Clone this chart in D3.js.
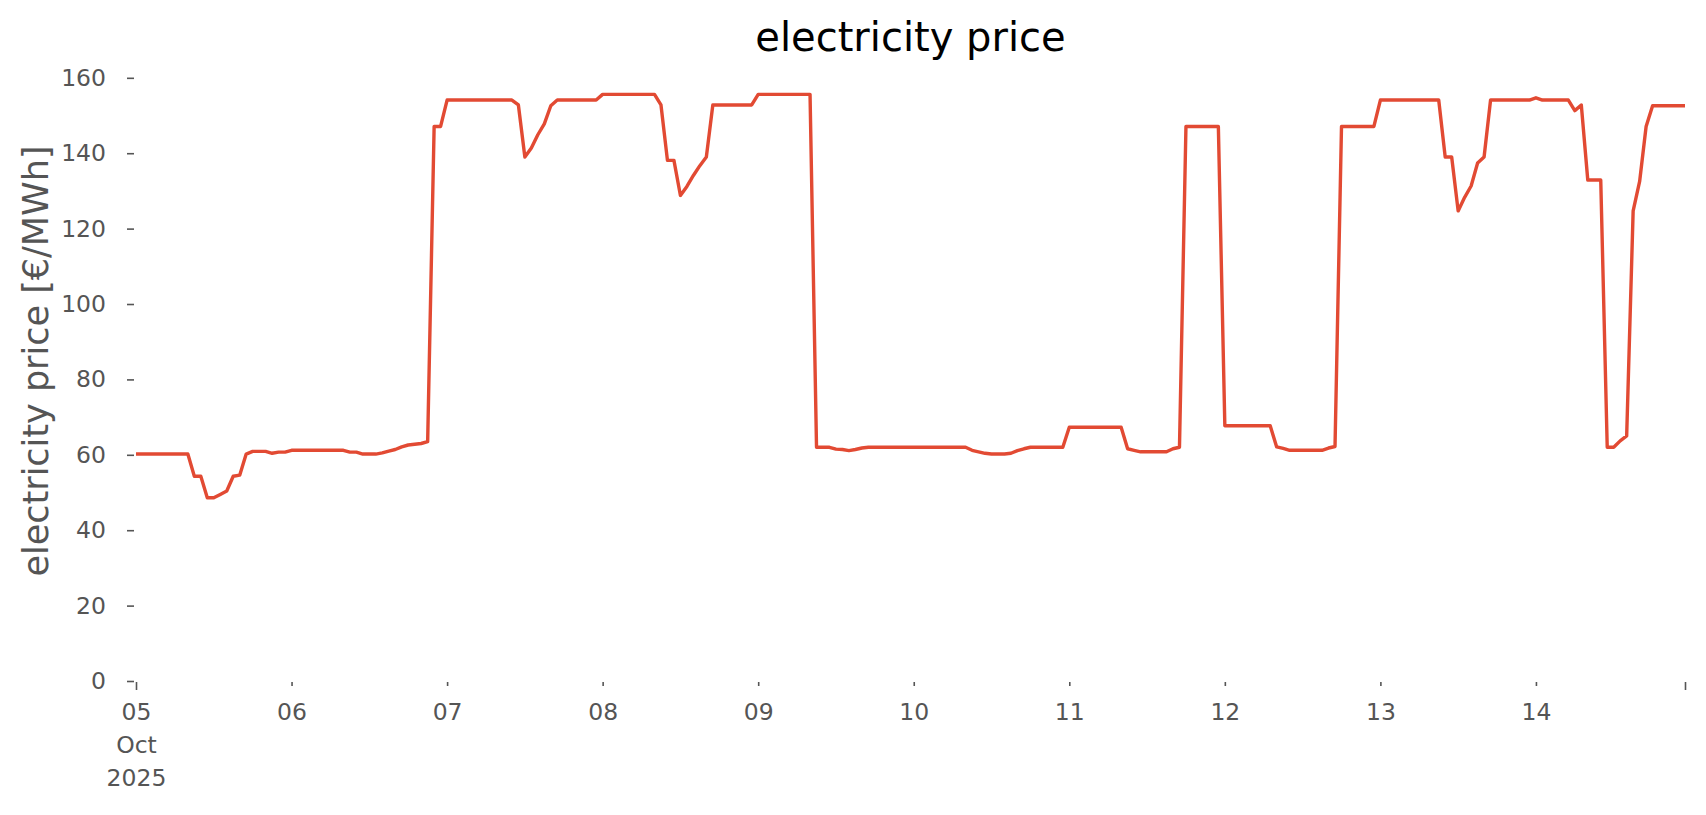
<!DOCTYPE html>
<html>
<head>
<meta charset="utf-8">
<script src="https://cdn.jsdelivr.net/npm/d3@7"></script>
<style>
body { margin: 0; background: #fff; }
text { font-family: "DejaVu Sans", sans-serif; }
</style>
</head>
<body>
<svg id="chart" width="1706" height="815"></svg>
<script>
//variable definition
var WIDTH = 1706;
var HEIGHT = 815;
var MARGIN = {left: 136, right: 21, top: 65, bottom: 134};
var LINE_COLOR = "#E24A33";
var TEXT_COLOR = "#555555";

// hourly prices, one array per day (05 Oct 2025 00:00 .. 14 Oct 2025 23:00)
var START = new Date(2025, 9, 5, 0);
var DAY_05 = [60.2, 60.2, 60.2, 60.2, 60.2, 60.2, 60.2, 60.2, 60.2, 54.3, 54.3, 48.6, 48.6, 49.5, 50.4, 54.3, 54.6, 60.2, 60.9, 60.9, 60.9, 60.4, 60.7, 60.7];
var DAY_06 = [61.2, 61.2, 61.2, 61.2, 61.2, 61.2, 61.2, 61.2, 61.2, 60.7, 60.7, 60.2, 60.2, 60.2, 60.5, 61.0, 61.4, 62.1, 62.6, 62.8, 63.0, 63.5, 147.1, 147.1];
var DAY_07 = [154.1, 154.1, 154.1, 154.1, 154.1, 154.1, 154.1, 154.1, 154.1, 154.1, 154.1, 152.8, 139.0, 141.4, 144.9, 147.8, 152.6, 154.1, 154.1, 154.1, 154.1, 154.1, 154.1, 154.1];
var DAY_08 = [155.6, 155.6, 155.6, 155.6, 155.6, 155.6, 155.6, 155.6, 155.6, 152.8, 138.1, 138.1, 128.8, 131.2, 134.1, 136.7, 139.0, 152.8, 152.8, 152.8, 152.8, 152.8, 152.8, 152.8];
var DAY_09 = [155.6, 155.6, 155.6, 155.6, 155.6, 155.6, 155.6, 155.6, 155.6, 62.0, 62.0, 62.0, 61.5, 61.4, 61.1, 61.4, 61.8, 62.0, 62.0, 62.0, 62.0, 62.0, 62.0, 62.0];
var DAY_10 = [62.0, 62.0, 62.0, 62.0, 62.0, 62.0, 62.0, 62.0, 62.0, 61.2, 60.8, 60.4, 60.2, 60.2, 60.2, 60.4, 61.1, 61.6, 62.0, 62.0, 62.0, 62.0, 62.0, 62.0];
var DAY_11 = [67.3, 67.3, 67.3, 67.3, 67.3, 67.3, 67.3, 67.3, 67.3, 61.6, 61.2, 60.8, 60.8, 60.8, 60.8, 60.8, 61.6, 62.0, 147.1, 147.1, 147.1, 147.1, 147.1, 147.1];
var DAY_12 = [67.7, 67.7, 67.7, 67.7, 67.7, 67.7, 67.7, 67.7, 62.1, 61.7, 61.2, 61.2, 61.2, 61.2, 61.2, 61.2, 61.8, 62.2, 147.1, 147.1, 147.1, 147.1, 147.1, 147.1];
var DAY_13 = [154.1, 154.1, 154.1, 154.1, 154.1, 154.1, 154.1, 154.1, 154.1, 154.1, 139.0, 139.0, 124.7, 128.3, 131.3, 137.4, 139.0, 154.1, 154.1, 154.1, 154.1, 154.1, 154.1, 154.1];
var DAY_14 = [154.7, 154.1, 154.1, 154.1, 154.1, 154.1, 151.3, 152.8, 132.9, 132.9, 132.9, 62.0, 62.0, 63.7, 65.0, 124.7, 132.5, 147.1, 152.6, 152.6, 152.6, 152.6, 152.6, 152.6];

var DAY_LABELS = ["05", "06", "07", "08", "09", "10", "11", "12", "13", "14"];
var FIRST_LABEL_EXTRA = ["Oct", "2025"];
var Y_TICKS = [0, 20, 40, 60, 80, 100, 120, 140, 160];
var Y_MAX = 163.4;


function buildData() {
    let prices = [].concat(DAY_05, DAY_06, DAY_07, DAY_08, DAY_09, DAY_10, DAY_11, DAY_12, DAY_13, DAY_14);
    return prices.map((p, i) => ({
        "time": d3.timeHour.offset(START, i),
        "price": p
    }));
}

function drawChart(data) {
    let svg = d3.select("#chart");

    svg.append("rect")
        .attr("width", WIDTH)
        .attr("height", HEIGHT)
        .attr("fill", "white");

    let timeRange = d3.extent(data, d => d.time);

    let xScale = d3.scaleTime()
        .domain(timeRange)
        .range([MARGIN.left, WIDTH - MARGIN.right]);

    let yScale = d3.scaleLinear()
        .domain([0, Y_MAX])
        .range([HEIGHT - MARGIN.bottom, MARGIN.top]);

    // y axis
    let yAxis = d3.axisLeft(yScale)
        .tickValues(Y_TICKS)
        .tickFormat(d => "" + d)
        .tickSize(7)
        .tickPadding(21);

    let yG = svg.append("g")
        .attr("transform", `translate(${MARGIN.left - 2}, 0)`)
        .call(yAxis);
    yG.select(".domain").remove();
    yG.selectAll("line").attr("stroke", TEXT_COLOR).attr("stroke-width", 1.6);
    yG.selectAll("text")
        .attr("fill", TEXT_COLOR)
        .style("font-size", "23.5px");

    // x axis: a tick per day plus one at the last hour
    let dayTicks = d3.timeDay.range(timeRange[0], timeRange[1]);
    let tickVals = dayTicks.concat([timeRange[1]]);

    let xAxis = d3.axisBottom(xScale)
        .tickValues(tickVals)
        .tickSize(4)
        .tickPadding(17)
        .tickFormat((d, i) => i < DAY_LABELS.length ? DAY_LABELS[i] : "");

    let xG = svg.append("g")
        .attr("transform", `translate(0, ${HEIGHT - MARGIN.bottom + 1})`)
        .call(xAxis);
    xG.select(".domain").remove();
    xG.selectAll("line")
        .attr("stroke", TEXT_COLOR)
        .attr("stroke-width", 1.6)
        .attr("y2", (d, i) => (i === 0 || i === tickVals.length - 1) ? 8 : 4);
    xG.selectAll("text")
        .attr("fill", TEXT_COLOR)
        .style("font-size", "23.5px");

    let first = xG.select(".tick text");
    FIRST_LABEL_EXTRA.forEach(t => {
        first.append("tspan")
            .attr("x", 0)
            .attr("dy", "1.42em")
            .text(t);
    });
    first.attr("y", 21);

    // line
    let line = d3.line()
        .x(d => xScale(d.time))
        .y(d => yScale(d.price));

    svg.append("path")
        .datum(data)
        .attr("fill", "none")
        .attr("stroke", LINE_COLOR)
        .attr("stroke-width", 3.4)
        .attr("stroke-linejoin", "round")
        .attr("d", line);

    // title and label
    svg.append("text")
        .text("electricity price")
        .attr("x", (MARGIN.left + WIDTH - MARGIN.right) / 2)
        .attr("y", 51)
        .attr("text-anchor", "middle")
        .attr("fill", "black")
        .style("font-size", "40px");

    svg.append("text")
        .text("electricity price [€/MWh]")
        .attr("text-anchor", "middle")
        .attr("fill", TEXT_COLOR)
        .style("font-size", "35px")
        .attr("transform", "translate(48, 361) rotate(-90)");
}

function main() {
    drawChart(buildData());
}

main();
</script>
</body>
</html>
